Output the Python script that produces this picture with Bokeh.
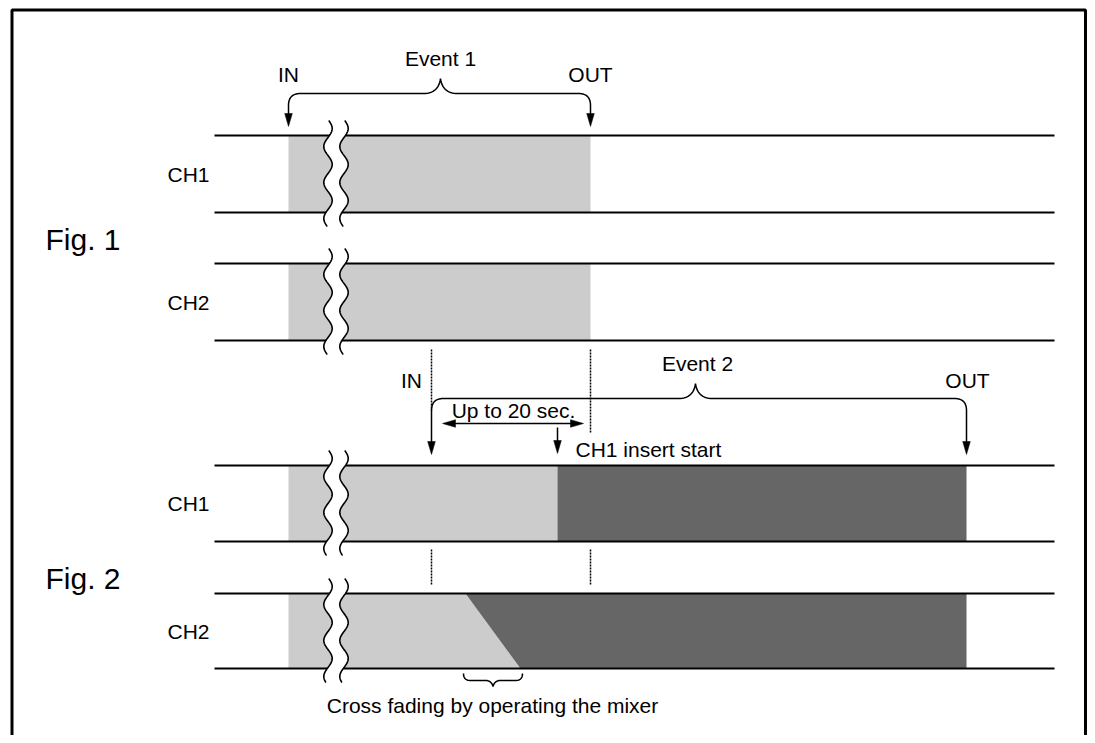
import numpy as np
from bokeh.plotting import figure
from bokeh.models import Range1d, ColumnDataSource
from bokeh.embed import file_html
from bokeh.resources import INLINE
from bokeh.core.properties import value

FONT = "Liberation Sans"
LIGHT = "#cccccc"
DARK = "#666666"

# ---- diagram data (timeline positions) ----
track_start, track_end = 214, 1054
lane_tops = [135, 263, 465, 593]
lane_bottoms = [212, 340, 541, 668]
lane_names = ["CH1", "CH2", "CH1", "CH2"]
fig_names = ["Fig. 1", "Fig. 2"]
fig_label_y = [239, 578]

event1_in, event1_out = 288, 590
event2_in, event2_out = 431, 966
ch1_insert_start = 557
fade_start, fade_end = 465, 520
clip_start = 288
break_x = [327.5, 343.5]

# light (old material) and dark (new event) blocks: lane, left, right
light_lane = [0, 1, 2]
light_left = [clip_start, clip_start, clip_start]
light_right = [event1_out, event1_out, ch1_insert_start]
dark_lane = [2]
dark_left = [ch1_insert_start]
dark_right = [event2_out]

p = figure(width=1087, height=735, x_range=Range1d(0, 1087), y_range=Range1d(735, 0),
           output_backend="svg", toolbar_location=None, min_border=0)
p.axis.visible = False
p.grid.visible = False
p.outline_line_color = None
p.background_fill_color = "white"
p.border_fill_color = "white"

# outer frame
p.quad(left=[11.5], right=[1085], top=[9.5], bottom=[800], fill_color=None,
       line_color="black", line_width=3)

# blocks
p.quad(left=light_left, right=light_right,
       top=[lane_tops[i] for i in light_lane], bottom=[lane_bottoms[i] for i in light_lane],
       fill_color=LIGHT, line_color=None)
p.quad(left=dark_left, right=dark_right,
       top=[lane_tops[i] for i in dark_lane], bottom=[lane_bottoms[i] for i in dark_lane],
       fill_color=DARK, line_color=None)
t3, b3 = lane_tops[3], lane_bottoms[3]
p.patch([clip_start, fade_start, fade_end, clip_start], [t3, t3, b3, b3],
        fill_color=LIGHT, line_color=None)
p.patch([fade_start, event2_out, event2_out, fade_end], [t3, t3, b3, b3],
        fill_color=DARK, line_color=None)

# lane lines
ys = lane_tops + lane_bottoms
p.segment(x0=[track_start] * len(ys), x1=[track_end] * len(ys), y0=ys, y1=ys,
          line_color="black", line_width=2)

# break (wavy) symbols
P, A = 36.0, 4.2
for t, b in zip(lane_tops, lane_bottoms):
    y0, y1 = t - 15, b + 14
    yy = np.linspace(y0, y1, 120)
    ph = np.pi / 2 - 2 * np.pi * 8 / P
    w = A * np.sin(2 * np.pi * (yy - y0) / P + ph)
    xl = break_x[0] + w
    xr = break_x[1] + w
    p.patch(list(xl) + list(xr[::-1]), list(yy) + list(yy[::-1]),
            fill_color="white", line_color=None)
    p.line(xl, yy, line_color="black", line_width=1.6)
    p.line(xr, yy, line_color="black", line_width=1.6)


def quad_bez(a, c, b, n=16):
    t = np.linspace(0, 1, n)
    x = (1 - t) ** 2 * a[0] + 2 * (1 - t) * t * c[0] + t ** 2 * b[0]
    y = (1 - t) ** 2 * a[1] + 2 * (1 - t) * t * c[1] + t ** 2 * b[1]
    return list(x), list(y)


def brace(xa, xb, xpeak, ybar, ypeak, yend, r=12, hw=17):
    xs, ys_ = [xa], [yend]
    bx, by = quad_bez((xa, ybar + r), (xa, ybar), (xa + r, ybar))
    xs += [xa] + bx; ys_ += [ybar + r] + by
    bx, by = quad_bez((xpeak - hw, ybar), (xpeak - 2, ybar), (xpeak, ypeak))
    xs += bx; ys_ += by
    bx, by = quad_bez((xpeak, ypeak), (xpeak + 2, ybar), (xpeak + hw, ybar))
    xs += bx; ys_ += by
    bx, by = quad_bez((xb - r, ybar), (xb, ybar), (xb, ybar + r))
    xs += bx; ys_ += by
    xs += [xb]; ys_ += [yend]
    return xs, ys_


def arrow_down(x, ytip, L=13, hw=3.8):
    p.patch([x - hw, x + hw, x], [ytip - L, ytip - L, ytip], fill_color="black", line_color="black", line_width=0.5)


def arrow_h(xtip, y, direction, L=13, hw=3.8):
    xb = xtip - direction * L
    p.patch([xb, xb, xtip], [y - hw, y + hw, y], fill_color="black", line_color="black", line_width=0.5)


# Event 1 brace
bx, by = brace(event1_in, event1_out, 440, 93, 78, 116)
p.line(bx, by, line_color="black", line_width=1.5)
arrow_down(event1_in, 126)
arrow_down(event1_out, 126)

# Event 2 brace
bx, by = brace(event2_in, event2_out, 695, 398, 383, 445)
p.line(bx, by, line_color="black", line_width=1.5)
arrow_down(event2_in, 454)
arrow_down(event2_out, 454)

# dotted reference lines
for x in [event2_in, event1_out]:
    p.line([x, x], [349, 410 if x == event2_in else 432], line_color="black",
           line_width=1.5, line_dash="2 1")
    p.line([x, x], [549, 584], line_color="black", line_width=1.5, line_dash="2 1")

# up to 20 sec double arrow
p.line([450, 575], [423, 423], line_color="black", line_width=1.5)
arrow_h(442, 423, -1)
arrow_h(583, 423, 1)

# CH1 insert start arrow
p.line([ch1_insert_start, ch1_insert_start], [427, 442], line_color="black", line_width=1.5)
arrow_down(ch1_insert_start, 453)

# small brace under cross fade
sx, sy = [], []
bx_, by_ = quad_bez((463, 673), (463, 680), (470, 680))
sx += bx_; sy += by_
bx_, by_ = quad_bez((485, 680), (491, 680), (492.5, 686))
sx += bx_; sy += by_
bx_, by_ = quad_bez((492.5, 686), (494, 680), (500, 680))
sx += bx_; sy += by_
bx_, by_ = quad_bez((515, 680), (522, 680), (522, 673))
sx += bx_; sy += by_
p.line(sx, sy, line_color="black", line_width=1.5)

# texts
lab = ColumnDataSource(dict(
    x=[188] * 4,
    y=[(t + b) / 2 for t, b in zip(lane_tops, lane_bottoms)],
    text=lane_names))
p.text(x="x", y="y", text="text", source=lab, text_align="center", text_baseline="middle",
       text_font=value(FONT), text_font_size="21px", text_color="black")

p.text(x=[45, 45], y=fig_label_y, text=fig_names, text_align="left", text_baseline="middle",
       text_font=value(FONT), text_font_size="30px", text_color="black")

small = ColumnDataSource(dict(
    x=[288, 440, 590, 411, 697, 967, 513],
    y=[74, 58, 74, 380, 363, 380, 410],
    text=["IN", "Event 1", "OUT", "IN", "Event 2", "OUT", "Up to 20 sec."]))
p.text(x="x", y="y", text="text", source=small, text_align="center", text_baseline="middle",
       text_font=value(FONT), text_font_size="21px", text_color="black")

p.text(x=[575], y=[449], text=["CH1 insert start"], text_align="left", text_baseline="middle",
       text_font=value(FONT), text_font_size="21px", text_color="black")
p.text(x=[492], y=[705], text=["Cross fading by operating the mixer"], text_align="center",
       text_baseline="middle", text_font=value(FONT), text_font_size="21px", text_color="black")

open("out.html", "w").write(file_html(p, INLINE))
